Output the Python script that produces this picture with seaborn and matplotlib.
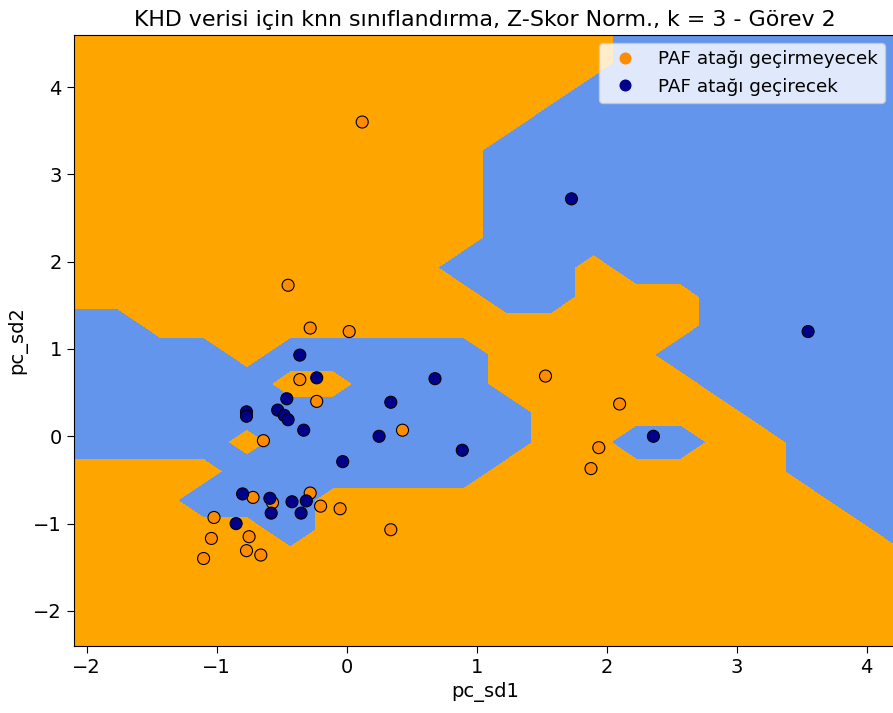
import numpy as np
import pandas as pd
import matplotlib
matplotlib.use('Agg')
import matplotlib.pyplot as plt
import seaborn as sns

# points (pc_sd1, pc_sd2)
no_attack_x = [0.12, -0.45, -0.28, 0.02, -0.36, -0.23, -0.64, -0.72, -0.57, -0.28,
               -0.20, -0.05, -1.02, -1.04, -0.75, -0.77, -0.66, -1.10, 0.34, 1.53,
               2.10, 1.94, 1.88, 0.43]
no_attack_y = [3.60, 1.73, 1.24, 1.20, 0.65, 0.40, -0.05, -0.70, -0.76, -0.65,
               -0.80, -0.83, -0.93, -1.17, -1.15, -1.31, -1.36, -1.40, -1.07, 0.69,
               0.37, -0.13, -0.37, 0.07]
attack_x = [-0.36, -0.23, -0.46, -0.77, -0.77, -0.53, -0.48, -0.45, -0.33, 0.25,
            -0.03, -0.80, -0.59, -0.58, -0.42, -0.31, -0.35, -0.85, 0.68, 0.34,
            0.89, 2.36, 1.73, 3.55]
attack_y = [0.93, 0.67, 0.43, 0.28, 0.23, 0.30, 0.24, 0.19, 0.07, 0.00,
            -0.29, -0.66, -0.71, -0.88, -0.75, -0.74, -0.88, -1.00, 0.66, 0.39,
            -0.16, 0.00, 2.72, 1.20]

class_names = ['PAF atağı geçirmeyecek', 'PAF atağı geçirecek']
k = 3
h = 1 / 3  # mesh step

df = pd.DataFrame({
    'pc_sd1': no_attack_x + attack_x,
    'pc_sd2': no_attack_y + attack_y,
    'label': [0] * len(no_attack_x) + [1] * len(attack_x),
})
df['sinif'] = df['label'].map(dict(enumerate(class_names)))


def knn_predict(train_xy, train_lab, grid_xy, k=3):
    # distance weighted k nearest neighbours
    d = np.sqrt(((grid_xy[:, None, :] - train_xy[None, :, :]) ** 2).sum(axis=2))
    idx = np.argsort(d, axis=1)[:, :k]
    dk = np.take_along_axis(d, idx, axis=1)
    w = 1.0 / np.maximum(dk, 1e-9)
    lab = train_lab[idx]
    score1 = (w * (lab == 1)).sum(axis=1)
    score0 = (w * (lab == 0)).sum(axis=1)
    return (score1 > score0).astype(int)


X = df[['pc_sd1', 'pc_sd2']].to_numpy()
y = df['label'].to_numpy()
x_min, x_max = X[:, 0].min() - 1, X[:, 0].max() + 1
y_min, y_max = X[:, 1].min() - 1, X[:, 1].max() + 1
xx, yy = np.meshgrid(np.arange(x_min, x_max, h),
                     np.arange(y_min, y_max + 1e-6, h))
Z = knn_predict(X, y, np.c_[xx.ravel(), yy.ravel()], k=k).reshape(xx.shape)

W, H = 893, 713
px_x, px_y = 130.0, 87.3        # pixels per data unit
x0_px, y0_px = 346.6, 436.3      # pixel position of the origin
x_lo, x_hi = xx.min(), xx.max()
y_lo, y_hi = yy.min(), yy.max()
left = x0_px + x_lo * px_x
right = x0_px + x_hi * px_x
top = y0_px - y_hi * px_y
bottom = y0_px - y_lo * px_y

fig = plt.figure(figsize=(W / 100, H / 100), dpi=100)
ax = fig.add_axes([left / W, (H - bottom) / H, (right - left) / W, (bottom - top) / H])

ax.contourf(xx, yy, Z, levels=[-1, 0.45, 2], colors=['orange', 'cornflowerblue'])
sns.scatterplot(data=df, x='pc_sd1', y='pc_sd2', hue='sinif', hue_order=class_names,
                palette=['darkorange', 'darkblue'], alpha=1.0, edgecolor='black',
                linewidth=0.8, s=75, ax=ax)
ax.set_xlim(x_lo, x_hi)
ax.set_ylim(y_lo, y_hi)
ax.set_title('KHD verisi için knn sınıflandırma, Z-Skor Norm., k = %d - Görev 2' % k,
             fontsize=15.9)
ax.set_xlabel('pc_sd1', fontsize=14)
ax.set_ylabel('pc_sd2', fontsize=14)
ax.tick_params(labelsize=14, length=5)
leg = ax.legend(loc='upper right', fontsize=13.2, bbox_to_anchor=(885 / W, (H - 43) / H),
                bbox_transform=fig.transFigure, borderaxespad=0)
for hd in leg.legend_handles:
    hd.set_markeredgecolor('none')

fig.savefig('out.png', dpi=100)
